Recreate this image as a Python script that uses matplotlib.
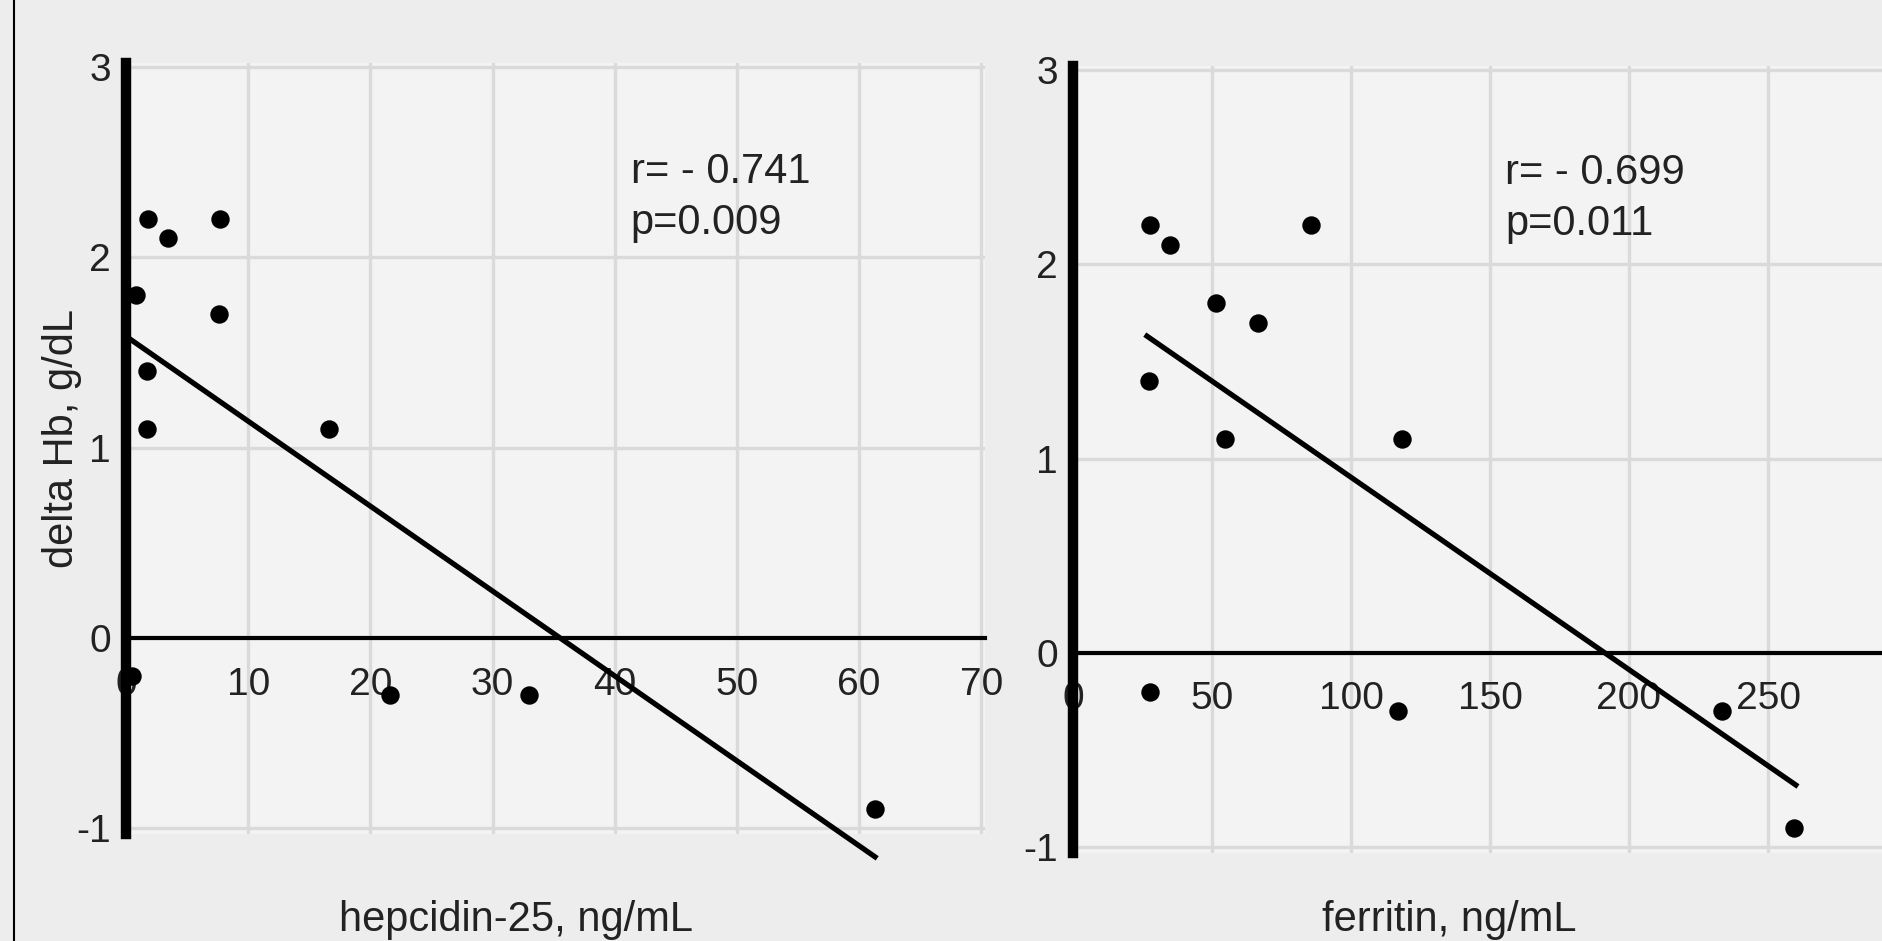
import numpy as np
import matplotlib.pyplot as plt
from matplotlib.lines import Line2D

plt.rcParams['font.family'] = ['Liberation Sans', 'DejaVu Sans']
plt.rcParams['axes.unicode_minus'] = False

# data
hepcidin = [1.8, 7.7, 3.4, 0.8, 7.6, 1.7, 1.7, 16.6, 0.5, 21.6, 33.0, 61.3]
dhb_hep = [2.2, 2.2, 2.1, 1.8, 1.7, 1.4, 1.1, 1.1, -0.2, -0.3, -0.3, -0.9]
ferritin = [27.7, 34.9, 85.6, 51.4, 66.5, 27.3, 54.7, 118.3, 27.7, 116.9, 233.5, 259.4]
dhb_fer = [2.2, 2.1, 2.2, 1.8, 1.7, 1.4, 1.1, 1.1, -0.2, -0.3, -0.3, -0.9]

# regression line ends
fit_hep_x = [0.1, 61.3]
fit_hep_y = [1.58, -1.15]
fit_fer_x = [26.6, 260.0]
fit_fer_y = [1.63, -0.68]

hep_ticks = [0, 10, 20, 30, 40, 50, 60, 70]
fer_ticks = [0, 50, 100, 150, 200, 250]
y_ticks = [-1, 0, 1, 2, 3]

stats_hep = "r= - 0.741\np=0.009"
stats_fer = "r= - 0.699\np=0.011"

W, H = 1882, 941
fig = plt.figure(figsize=(W / 100, H / 100), dpi=100)
fig.patch.set_facecolor('#ededed')

txt = '#222222'
fs = 28
fs_lab = 30


def setup(ax, xticks, xlim, xpad):
    ax.set_facecolor('#f3f3f3')
    ax.set_xlim(xlim)
    ax.set_ylim(-1.03, 3.02)
    ax.set_xticks(xticks)
    ax.set_yticks(y_ticks)
    ax.grid(True, color='#dadada', linewidth=2.4)
    ax.set_axisbelow(True)
    for s in ['top', 'right']:
        ax.spines[s].set_visible(False)
    ax.spines['bottom'].set_position(('data', 0))
    ax.spines['bottom'].set_linewidth(3)
    ax.spines['left'].set_position(('data', 0))
    ax.spines['left'].set_linewidth(7.5)
    ax.tick_params(axis='x', length=0, pad=xpad, labelsize=fs, labelcolor=txt)
    ax.tick_params(axis='y', length=0, pad=11, labelsize=fs, labelcolor=txt)


# left panel: hepcidin
ax1 = fig.add_axes([126 / W, 1 - 834 / H, (985 - 126) / W, (834 - 63) / H])
setup(ax1, hep_ticks, (0, 70.3), 21)
ax1.scatter(hepcidin, dhb_hep, s=150, color='black', zorder=5, clip_on=False)
ax1.plot(fit_hep_x, fit_hep_y, color='black', linewidth=3.8, zorder=4, clip_on=False)
ax1.text(41.3, 2.55, stats_hep, fontsize=fs_lab, color=txt, va='top', linespacing=1.35)

# right panel: ferritin (runs off the right edge like the original)
ax2 = fig.add_axes([1073 / W, 1 - 853 / H, (1907 - 1073) / W, (853 - 66) / H])
setup(ax2, fer_ticks, (0, 300), 20)
ax2.scatter(ferritin, dhb_fer, s=150, color='black', zorder=5, clip_on=False)
ax2.plot(fit_fer_x, fit_fer_y, color='black', linewidth=3.8, zorder=4, clip_on=False)
ax2.text(155.4, 2.57, stats_fer, fontsize=fs_lab, color=txt, va='top', linespacing=1.35)

fig.text(62 / W, 1 - 438 / H, 'delta Hb, g/dL', rotation=90, fontsize=fs_lab,
         color=txt, ha='center', va='center')
fig.text(516 / W, 1 - 920 / H, 'hepcidin-25, ng/mL', fontsize=fs_lab,
         color=txt, ha='center', va='center')
fig.text(1449 / W, 1 - 920 / H, 'ferritin, ng/mL', fontsize=fs_lab,
         color=txt, ha='center', va='center')

# frame line on the left side of the image
fig.add_artist(Line2D([14 / W, 14 / W], [0, 1], color='black', linewidth=1.5))

fig.savefig('out.png', dpi=100, facecolor=fig.get_facecolor())
